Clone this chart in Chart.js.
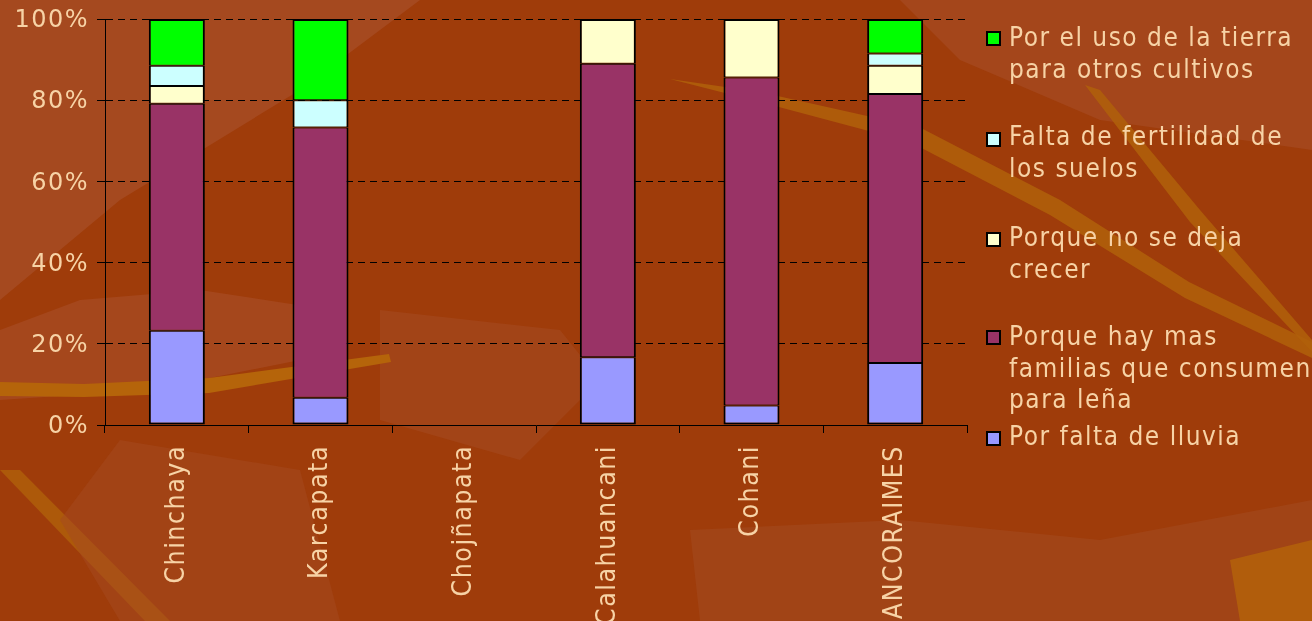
<!DOCTYPE html>
<html>
<head>
<meta charset="utf-8">
<script src="https://cdn.jsdelivr.net/npm/chart.js@4/dist/chart.umd.min.js"></script>
<style>
  html, body { margin: 0; padding: 0; }
  body {
    width: 1312px; height: 621px; overflow: hidden; position: relative;
    background: #9F3C0A;
    font-family: "DejaVu Sans Condensed", "DejaVu Sans", Verdana, sans-serif;
  }
  #bg { position: absolute; left: 0; top: 0; }
  #wrap { position: absolute; left: 0; top: 0; width: 1312px; height: 621px; }
  .leg { position: absolute; left: 986px; width: 15px; height: 15px; box-sizing: border-box; border: 2px solid #000; }
  .legtxt { position: absolute; left: 1009px; color: #F7D3A6; font-size: 26px; line-height: 31.5px; letter-spacing: 1.5px; white-space: nowrap; }
</style>
</head>
<body>
<svg id="bg" width="1312" height="621" xmlns="http://www.w3.org/2000/svg">
  <polygon points="0,0 420,0 300,90 120,200 0,300" fill="#A5491F"/>
  <polygon points="560,0 900,0 960,60 1100,120 1312,150 1312,0" fill="#A5491F" opacity="0.8"/>
  <polygon points="0,330 80,300 200,290 330,310 300,360 150,390 0,400" fill="#A84C24" opacity="0.7"/>
  <polygon points="380,310 560,330 600,380 520,460 380,420" fill="#A5491F" opacity="0.6"/>
  <polygon points="0,382 84,384 209,378 389,354 391,362 209,393 84,397 0,396" fill="#B5640A"/>
  <polygon points="670,79 760,92 921,128 1060,200 1189,282 1312,342 1312,358 1185,298 1050,215 910,142 760,102" fill="#B0600A" opacity="0.85"/>
  <polygon points="1085,85 1100,90 1200,210 1312,340 1312,352 1190,222" fill="#B0600A" opacity="0.85"/>
  <polygon points="0,470 20,470 170,621 145,621" fill="#B0600A" opacity="0.8"/>
  <polygon points="690,530 900,520 1100,540 1312,500 1312,621 700,621" fill="#A44A1E" opacity="0.6"/>
  <polygon points="1230,560 1312,540 1312,621 1240,621" fill="#B5640A" opacity="0.8"/>
  <polygon points="120,440 300,470 340,621 120,621 60,520" fill="#A5491F" opacity="0.5"/>
</svg>
<div id="wrap"><canvas id="c" width="1312" height="621"></canvas></div>
<div id="legend"></div>
<script>
const categories = ['Chinchaya', 'Karcapata', 'Chojñapata', 'Calahuancani', 'Cohani', 'ANCORAIMES'];
const porFaltaDeLluvia = [23.2, 6.7, null, 16.7, 4.8, 15.3];
const porqueHayMasFamilias = [55.9, 66.6, null, 72.3, 80.8, 66.2];
const porqueNoSeDejaCrecer = [4.4, null, null, 11.0, 14.4, 7.0];
const faltaDeFertilidad = [5.0, 6.7, null, null, null, 3.0];
const porUsoDeLaTierra = [11.5, 20.0, null, null, null, 8.5];
const yTicks = [0, 20, 40, 60, 80, 100];

const series = [
  { label: 'Por falta de lluvia', lines: ['Por falta de lluvia'], data: porFaltaDeLluvia, color: '#9999FF', top: 421, mark: 431 },
  { label: 'Porque hay mas familias que consumen para leña', lines: ['Porque hay mas', 'familias que consumen', 'para leña'], data: porqueHayMasFamilias, color: '#993366', top: 321, mark: 330 },
  { label: 'Porque no se deja crecer', lines: ['Porque no se deja', 'crecer'], data: porqueNoSeDejaCrecer, color: '#FFFFCC', top: 222, mark: 232 },
  { label: 'Falta de fertilidad de los suelos', lines: ['Falta de fertilidad de', 'los suelos'], data: faltaDeFertilidad, color: '#CCFFFF', top: 121, mark: 132 },
  { label: 'Por el uso de la tierra para otros cultivos', lines: ['Por el uso de la tierra', 'para otros cultivos'], data: porUsoDeLaTierra, color: '#00FF00', top: 22, mark: 31 }
];

const legend = document.getElementById('legend');
series.forEach(s => {
  const m = document.createElement('div');
  m.className = 'leg'; m.style.top = s.mark + 'px'; m.style.background = s.color;
  legend.appendChild(m);
  const t = document.createElement('div');
  t.className = 'legtxt'; t.style.top = s.top + 'px';
  t.innerHTML = s.lines.join('<br>');
  legend.appendChild(t);
});

const textColor = '#F7D3A6';
const spacingPlugin = {
  id: 'spacing',
  beforeDraw(chart) { chart.ctx.letterSpacing = '1.5px'; }
};

function topIndex(i) {
  let top = -1;
  series.forEach((s, d) => { if (s.data[i] != null) top = d; });
  return top;
}

new Chart(document.getElementById('c'), {
  type: 'bar',
  data: {
    labels: categories,
    datasets: series.map(s => ({
      label: s.label,
      data: s.data,
      backgroundColor: s.color,
      borderColor: '#000',
      borderWidth: (ctx) => ({
        left: 2, right: 2,
        top: topIndex(ctx.dataIndex) === ctx.datasetIndex ? 2 : 1,
        bottom: ctx.datasetIndex === 0 ? 2 : 1
      }),
      borderSkipped: false,
      inflateAmount: 0,
      categoryPercentage: 1,
      barPercentage: 0.39
    }))
  },
  options: {
    responsive: false,
    animation: false,
    devicePixelRatio: 1,
    layout: { padding: { left: 0, top: 19, right: 345, bottom: 0 } },
    plugins: { legend: { display: false }, tooltip: { enabled: false } },
    scales: {
      x: {
        stacked: true,
        grid: { display: true, drawOnChartArea: false, color: '#000', tickLength: 8, offset: true },
        border: { display: true, color: '#000', width: 1 },
        ticks: { color: textColor, font: { family: '"DejaVu Sans Condensed", "DejaVu Sans"', size: 26.5 }, minRotation: 90, maxRotation: 90, padding: 12, autoSkip: false },
        afterFit(s) { s.height = 196; }
      },
      y: {
        stacked: true,
        min: 0, max: 100,
        afterBuildTicks(s) { s.ticks = yTicks.map(v => ({ value: v })); },
        grid: { color: '#000', lineWidth: 1, tickLength: 8, tickBorderDash: [] },
        border: { display: true, color: '#000', width: 1, dash: [7, 5] },
        ticks: { color: textColor, font: { family: '"DejaVu Sans"', size: 24, lineHeight: 0.5 }, padding: 8, labelOffset: 2, callback: v => v + '%' },
        afterFit(s) { s.width = 105; }
      }
    }
  },
  plugins: [spacingPlugin]
});
</script>
</body>
</html>
